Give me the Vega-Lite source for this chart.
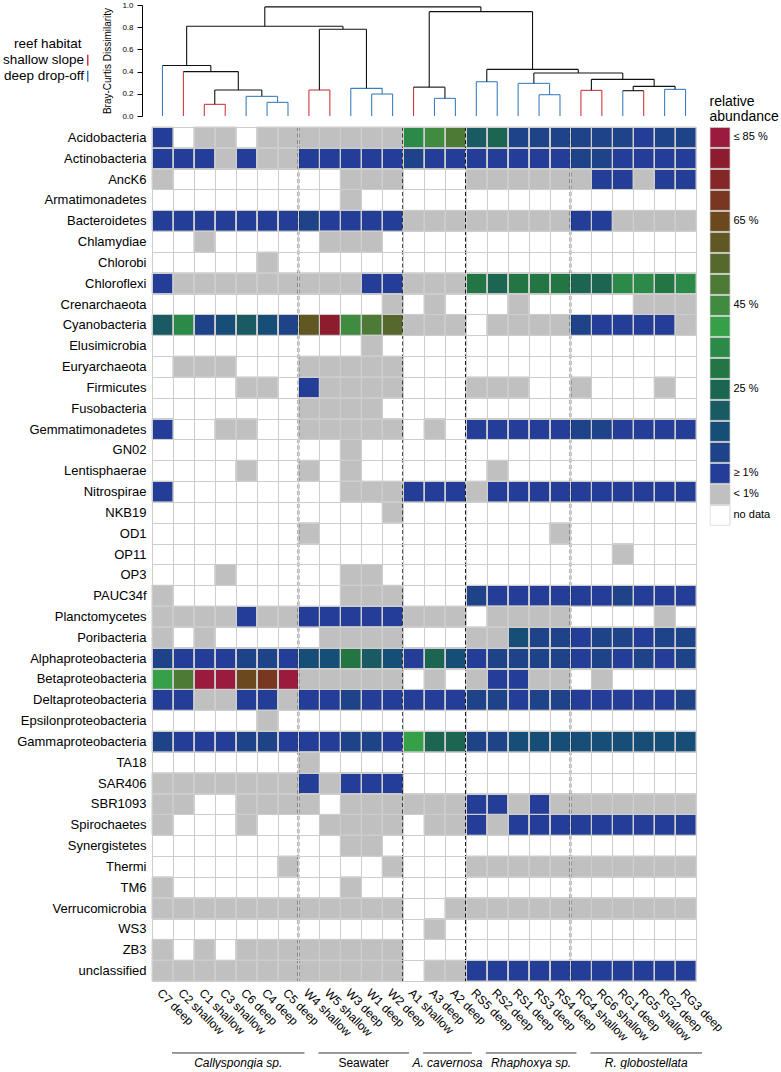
{
"$schema":"https://vega.github.io/schema/vega-lite/v6.json",
"background":"white",
"padding":{"left":1,"top":1,"right":0,"bottom":0},
"bounds":"flush",
"spacing":11,
"resolve":{"scale":{"x":"independent","y":"independent","color":"independent"},"legend":{"color":"independent"}},
"config":{"font":"Liberation Sans","view":{"stroke":null},"axis":{"labelColor":"#000","titleColor":"#000","domainColor":"#000","tickColor":"#000"},"legend":{"labelColor":"#000","titleColor":"#000"}},
"vconcat":[
{
"width":544,"height":111,
"data":{"values":[
{"x":2.5,"x2":2.5,"y":0,"y2":0.105,"h":"shallow slope"},{"x":3.5,"x2":3.5,"y":0,"y2":0.105,"h":"shallow slope"},{"x":2.5,"x2":3.5,"y":0.105,"y2":0.105,"h":"shallow slope"},
{"x":5.5,"x2":5.5,"y":0,"y2":0.123,"h":"deep drop-off"},{"x":6.5,"x2":6.5,"y":0,"y2":0.123,"h":"deep drop-off"},{"x":5.5,"x2":6.5,"y":0.123,"y2":0.123,"h":"deep drop-off"},
{"x":4.5,"x2":4.5,"y":0,"y2":0.177,"h":"deep drop-off"},{"x":6,"x2":6,"y":0.123,"y2":0.177,"h":"deep drop-off"},{"x":4.5,"x2":6,"y":0.177,"y2":0.177,"h":"deep drop-off"},
{"x":3,"x2":3,"y":0.105,"y2":0.234,"h":"mixed"},{"x":5.25,"x2":5.25,"y":0.177,"y2":0.234,"h":"mixed"},{"x":3,"x2":5.25,"y":0.234,"y2":0.234,"h":"mixed"},
{"x":1.5,"x2":1.5,"y":0,"y2":0.4,"h":"shallow slope"},{"x":4.125,"x2":4.125,"y":0.234,"y2":0.4,"h":"mixed"},{"x":1.5,"x2":4.125,"y":0.4,"y2":0.4,"h":"mixed"},
{"x":0.5,"x2":0.5,"y":0,"y2":0.455,"h":"deep drop-off"},{"x":2.8125,"x2":2.8125,"y":0.4,"y2":0.455,"h":"mixed"},{"x":0.5,"x2":2.8125,"y":0.455,"y2":0.455,"h":"mixed"},
{"x":7.5,"x2":7.5,"y":0,"y2":0.234,"h":"shallow slope"},{"x":8.5,"x2":8.5,"y":0,"y2":0.234,"h":"shallow slope"},{"x":7.5,"x2":8.5,"y":0.234,"y2":0.234,"h":"shallow slope"},
{"x":10.5,"x2":10.5,"y":0,"y2":0.198,"h":"deep drop-off"},{"x":11.5,"x2":11.5,"y":0,"y2":0.198,"h":"deep drop-off"},{"x":10.5,"x2":11.5,"y":0.198,"y2":0.198,"h":"deep drop-off"},
{"x":9.5,"x2":9.5,"y":0,"y2":0.249,"h":"deep drop-off"},{"x":11,"x2":11,"y":0.198,"y2":0.249,"h":"deep drop-off"},{"x":9.5,"x2":11,"y":0.249,"y2":0.249,"h":"deep drop-off"},
{"x":8,"x2":8,"y":0.234,"y2":0.782,"h":"mixed"},{"x":10.25,"x2":10.25,"y":0.249,"y2":0.782,"h":"mixed"},{"x":8,"x2":10.25,"y":0.782,"y2":0.782,"h":"mixed"},
{"x":1.65625,"x2":1.65625,"y":0.455,"y2":0.809,"h":"mixed"},{"x":9.125,"x2":9.125,"y":0.782,"y2":0.809,"h":"mixed"},{"x":1.65625,"x2":9.125,"y":0.809,"y2":0.809,"h":"mixed"},
{"x":13.5,"x2":13.5,"y":0,"y2":0.159,"h":"deep drop-off"},{"x":14.5,"x2":14.5,"y":0,"y2":0.159,"h":"deep drop-off"},{"x":13.5,"x2":14.5,"y":0.159,"y2":0.159,"h":"deep drop-off"},
{"x":12.5,"x2":12.5,"y":0,"y2":0.26,"h":"shallow slope"},{"x":14,"x2":14,"y":0.159,"y2":0.26,"h":"mixed"},{"x":12.5,"x2":14,"y":0.26,"y2":0.26,"h":"mixed"},
{"x":15.5,"x2":15.5,"y":0,"y2":0.309,"h":"deep drop-off"},{"x":16.5,"x2":16.5,"y":0,"y2":0.309,"h":"deep drop-off"},{"x":15.5,"x2":16.5,"y":0.309,"y2":0.309,"h":"deep drop-off"},
{"x":18.5,"x2":18.5,"y":0,"y2":0.192,"h":"deep drop-off"},{"x":19.5,"x2":19.5,"y":0,"y2":0.192,"h":"deep drop-off"},{"x":18.5,"x2":19.5,"y":0.192,"y2":0.192,"h":"deep drop-off"},
{"x":17.5,"x2":17.5,"y":0,"y2":0.294,"h":"deep drop-off"},{"x":19,"x2":19,"y":0.192,"y2":0.294,"h":"deep drop-off"},{"x":17.5,"x2":19,"y":0.294,"y2":0.294,"h":"deep drop-off"},
{"x":20.5,"x2":20.5,"y":0,"y2":0.231,"h":"shallow slope"},{"x":21.5,"x2":21.5,"y":0,"y2":0.231,"h":"shallow slope"},{"x":20.5,"x2":21.5,"y":0.231,"y2":0.231,"h":"shallow slope"},
{"x":22.5,"x2":22.5,"y":0,"y2":0.228,"h":"deep drop-off"},{"x":23.5,"x2":23.5,"y":0,"y2":0.228,"h":"shallow slope"},{"x":22.5,"x2":23.5,"y":0.228,"y2":0.228,"h":"mixed"},
{"x":24.5,"x2":24.5,"y":0,"y2":0.24,"h":"deep drop-off"},{"x":25.5,"x2":25.5,"y":0,"y2":0.24,"h":"deep drop-off"},{"x":24.5,"x2":25.5,"y":0.24,"y2":0.24,"h":"deep drop-off"},
{"x":23,"x2":23,"y":0.228,"y2":0.267,"h":"mixed"},{"x":25,"x2":25,"y":0.24,"y2":0.267,"h":"mixed"},{"x":23,"x2":25,"y":0.267,"y2":0.267,"h":"mixed"},
{"x":21,"x2":21,"y":0.231,"y2":0.33,"h":"mixed"},{"x":24,"x2":24,"y":0.267,"y2":0.33,"h":"mixed"},{"x":21,"x2":24,"y":0.33,"y2":0.33,"h":"mixed"},
{"x":18.25,"x2":18.25,"y":0.294,"y2":0.387,"h":"mixed"},{"x":22.5,"x2":22.5,"y":0.33,"y2":0.387,"h":"mixed"},{"x":18.25,"x2":22.5,"y":0.387,"y2":0.387,"h":"mixed"},
{"x":16,"x2":16,"y":0.309,"y2":0.42,"h":"mixed"},{"x":20.375,"x2":20.375,"y":0.387,"y2":0.42,"h":"mixed"},{"x":16,"x2":20.375,"y":0.42,"y2":0.42,"h":"mixed"},
{"x":13.25,"x2":13.25,"y":0.26,"y2":0.94,"h":"mixed"},{"x":18.1875,"x2":18.1875,"y":0.42,"y2":0.94,"h":"mixed"},{"x":13.25,"x2":18.1875,"y":0.94,"y2":0.94,"h":"mixed"},
{"x":5.390625,"x2":5.390625,"y":0.809,"y2":0.983,"h":"mixed"},{"x":15.71875,"x2":15.71875,"y":0.94,"y2":0.983,"h":"mixed"},{"x":5.390625,"x2":15.71875,"y":0.983,"y2":0.983,"h":"mixed"}
]},
"mark":{"type":"rule","strokeWidth":1.1},
"encoding":{
"x":{"field":"x","type":"quantitative","scale":{"domain":[0,26],"nice":false,"zero":false},"axis":null},
"x2":{"field":"x2"},
"y":{"field":"y","type":"quantitative","scale":{"domain":[0,1],"nice":false},"axis":{"values":[0,0.2,0.4,0.6,0.8,1],"format":".1f","title":"Bray-Curtis Dissimilarity","titleFontSize":10,"titleFontWeight":"normal","titlePadding":9,"labelFontSize":8,"labelPadding":4,"tickSize":5,"offset":10,"grid":false}},
"y2":{"field":"y2"},
"color":{"field":"h","type":"nominal","scale":{"domain":["shallow slope","deep drop-off","mixed"],"range":["#cc3a3f","#3d7ec0","#111111"]},
"legend":{"orient":"none","legendX":-151,"legendY":32,"title":"reef habitat","titleFontSize":13.5,"titleFontWeight":"normal","titleAnchor":"start","titleAlign":"left","titlePadding":3,"labelFontSize":13.5,"labelAlign":"right","labelOffset":-10.5,"symbolOffset":80,"symbolType":"M0,-1L0,1","symbolSize":121,"symbolStrokeWidth":1.5,"values":["shallow slope","deep drop-off"],"rowPadding":-2,"encode":{"title":{"update":{"dx":{"value":13}}}}}}
}
},
{
"width":544,"height":854,
"layer":[
{
"data":{"values":[
{"s":"C7 deep","p":"Acidobacteria","a":"5"},{"s":"C1 shallow","p":"Acidobacteria","a":"<1"},{"s":"C3 shallow","p":"Acidobacteria","a":"<1"},{"s":"C4 deep","p":"Acidobacteria","a":"<1"},{"s":"C5 deep","p":"Acidobacteria","a":"<1"},{"s":"W4 shallow","p":"Acidobacteria","a":"<1"},{"s":"W5 shallow","p":"Acidobacteria","a":"<1"},{"s":"W3 deep","p":"Acidobacteria","a":"<1"},{"s":"W1 deep","p":"Acidobacteria","a":"<1"},{"s":"W2 deep","p":"Acidobacteria","a":"<1"},{"s":"A1 shallow","p":"Acidobacteria","a":"35"},{"s":"A3 deep","p":"Acidobacteria","a":"45"},{"s":"A2 deep","p":"Acidobacteria","a":"50"},{"s":"RS5 deep","p":"Acidobacteria","a":"20"},{"s":"RS2 deep","p":"Acidobacteria","a":"25"},{"s":"RS1 deep","p":"Acidobacteria","a":"10"},{"s":"RS3 deep","p":"Acidobacteria","a":"10"},{"s":"RS4 deep","p":"Acidobacteria","a":"10"},{"s":"RG4 shallow","p":"Acidobacteria","a":"10"},{"s":"RG6 shallow","p":"Acidobacteria","a":"10"},{"s":"RG1 deep","p":"Acidobacteria","a":"10"},{"s":"RG5 shallow","p":"Acidobacteria","a":"5"},{"s":"RG2 deep","p":"Acidobacteria","a":"10"},{"s":"RG3 deep","p":"Acidobacteria","a":"10"},
{"s":"C7 deep","p":"Actinobacteria","a":"5"},{"s":"C2 shallow","p":"Actinobacteria","a":"5"},{"s":"C1 shallow","p":"Actinobacteria","a":"5"},{"s":"C3 shallow","p":"Actinobacteria","a":"<1"},{"s":"C6 deep","p":"Actinobacteria","a":"5"},{"s":"C4 deep","p":"Actinobacteria","a":"<1"},{"s":"C5 deep","p":"Actinobacteria","a":"<1"},{"s":"W4 shallow","p":"Actinobacteria","a":"5"},{"s":"W5 shallow","p":"Actinobacteria","a":"5"},{"s":"W3 deep","p":"Actinobacteria","a":"5"},{"s":"W1 deep","p":"Actinobacteria","a":"5"},{"s":"W2 deep","p":"Actinobacteria","a":"5"},{"s":"A1 shallow","p":"Actinobacteria","a":"10"},{"s":"A3 deep","p":"Actinobacteria","a":"5"},{"s":"A2 deep","p":"Actinobacteria","a":"5"},{"s":"RS5 deep","p":"Actinobacteria","a":"5"},{"s":"RS2 deep","p":"Actinobacteria","a":"5"},{"s":"RS1 deep","p":"Actinobacteria","a":"5"},{"s":"RS3 deep","p":"Actinobacteria","a":"5"},{"s":"RS4 deep","p":"Actinobacteria","a":"5"},{"s":"RG4 shallow","p":"Actinobacteria","a":"10"},{"s":"RG6 shallow","p":"Actinobacteria","a":"10"},{"s":"RG1 deep","p":"Actinobacteria","a":"5"},{"s":"RG5 shallow","p":"Actinobacteria","a":"5"},{"s":"RG2 deep","p":"Actinobacteria","a":"5"},{"s":"RG3 deep","p":"Actinobacteria","a":"5"},
{"s":"C7 deep","p":"AncK6","a":"<1"},{"s":"W3 deep","p":"AncK6","a":"<1"},{"s":"W1 deep","p":"AncK6","a":"<1"},{"s":"W2 deep","p":"AncK6","a":"<1"},{"s":"RS5 deep","p":"AncK6","a":"<1"},{"s":"RS2 deep","p":"AncK6","a":"<1"},{"s":"RS1 deep","p":"AncK6","a":"<1"},{"s":"RS3 deep","p":"AncK6","a":"<1"},{"s":"RS4 deep","p":"AncK6","a":"<1"},{"s":"RG4 shallow","p":"AncK6","a":"<1"},{"s":"RG6 shallow","p":"AncK6","a":"5"},{"s":"RG1 deep","p":"AncK6","a":"5"},{"s":"RG5 shallow","p":"AncK6","a":"<1"},{"s":"RG2 deep","p":"AncK6","a":"5"},{"s":"RG3 deep","p":"AncK6","a":"5"},
{"s":"W3 deep","p":"Armatimonadetes","a":"<1"},
{"s":"C7 deep","p":"Bacteroidetes","a":"5"},{"s":"C2 shallow","p":"Bacteroidetes","a":"5"},{"s":"C1 shallow","p":"Bacteroidetes","a":"5"},{"s":"C3 shallow","p":"Bacteroidetes","a":"5"},{"s":"C6 deep","p":"Bacteroidetes","a":"5"},{"s":"C4 deep","p":"Bacteroidetes","a":"5"},{"s":"C5 deep","p":"Bacteroidetes","a":"5"},{"s":"W4 shallow","p":"Bacteroidetes","a":"10"},{"s":"W5 shallow","p":"Bacteroidetes","a":"5"},{"s":"W3 deep","p":"Bacteroidetes","a":"5"},{"s":"W1 deep","p":"Bacteroidetes","a":"5"},{"s":"W2 deep","p":"Bacteroidetes","a":"5"},{"s":"A1 shallow","p":"Bacteroidetes","a":"<1"},{"s":"A3 deep","p":"Bacteroidetes","a":"<1"},{"s":"A2 deep","p":"Bacteroidetes","a":"<1"},{"s":"RS5 deep","p":"Bacteroidetes","a":"<1"},{"s":"RS2 deep","p":"Bacteroidetes","a":"<1"},{"s":"RS1 deep","p":"Bacteroidetes","a":"<1"},{"s":"RS3 deep","p":"Bacteroidetes","a":"<1"},{"s":"RS4 deep","p":"Bacteroidetes","a":"<1"},{"s":"RG4 shallow","p":"Bacteroidetes","a":"5"},{"s":"RG6 shallow","p":"Bacteroidetes","a":"5"},{"s":"RG1 deep","p":"Bacteroidetes","a":"<1"},{"s":"RG5 shallow","p":"Bacteroidetes","a":"<1"},{"s":"RG2 deep","p":"Bacteroidetes","a":"<1"},{"s":"RG3 deep","p":"Bacteroidetes","a":"<1"},
{"s":"C1 shallow","p":"Chlamydiae","a":"<1"},{"s":"W5 shallow","p":"Chlamydiae","a":"<1"},{"s":"W3 deep","p":"Chlamydiae","a":"<1"},{"s":"W1 deep","p":"Chlamydiae","a":"<1"},
{"s":"C4 deep","p":"Chlorobi","a":"<1"},
{"s":"C7 deep","p":"Chloroflexi","a":"5"},{"s":"C2 shallow","p":"Chloroflexi","a":"<1"},{"s":"C1 shallow","p":"Chloroflexi","a":"<1"},{"s":"C3 shallow","p":"Chloroflexi","a":"<1"},{"s":"C6 deep","p":"Chloroflexi","a":"<1"},{"s":"C4 deep","p":"Chloroflexi","a":"<1"},{"s":"C5 deep","p":"Chloroflexi","a":"<1"},{"s":"W4 shallow","p":"Chloroflexi","a":"<1"},{"s":"W5 shallow","p":"Chloroflexi","a":"<1"},{"s":"W3 deep","p":"Chloroflexi","a":"<1"},{"s":"W1 deep","p":"Chloroflexi","a":"5"},{"s":"W2 deep","p":"Chloroflexi","a":"5"},{"s":"A1 shallow","p":"Chloroflexi","a":"<1"},{"s":"A3 deep","p":"Chloroflexi","a":"<1"},{"s":"A2 deep","p":"Chloroflexi","a":"<1"},{"s":"RS5 deep","p":"Chloroflexi","a":"30"},{"s":"RS2 deep","p":"Chloroflexi","a":"25"},{"s":"RS1 deep","p":"Chloroflexi","a":"30"},{"s":"RS3 deep","p":"Chloroflexi","a":"30"},{"s":"RS4 deep","p":"Chloroflexi","a":"30"},{"s":"RG4 shallow","p":"Chloroflexi","a":"25"},{"s":"RG6 shallow","p":"Chloroflexi","a":"25"},{"s":"RG1 deep","p":"Chloroflexi","a":"35"},{"s":"RG5 shallow","p":"Chloroflexi","a":"35"},{"s":"RG2 deep","p":"Chloroflexi","a":"30"},{"s":"RG3 deep","p":"Chloroflexi","a":"35"},
{"s":"W2 deep","p":"Crenarchaeota","a":"<1"},{"s":"A3 deep","p":"Crenarchaeota","a":"<1"},{"s":"RS1 deep","p":"Crenarchaeota","a":"<1"},{"s":"RG5 shallow","p":"Crenarchaeota","a":"<1"},{"s":"RG2 deep","p":"Crenarchaeota","a":"<1"},{"s":"RG3 deep","p":"Crenarchaeota","a":"<1"},
{"s":"C7 deep","p":"Cyanobacteria","a":"20"},{"s":"C2 shallow","p":"Cyanobacteria","a":"35"},{"s":"C1 shallow","p":"Cyanobacteria","a":"10"},{"s":"C3 shallow","p":"Cyanobacteria","a":"15"},{"s":"C6 deep","p":"Cyanobacteria","a":"20"},{"s":"C4 deep","p":"Cyanobacteria","a":"15"},{"s":"C5 deep","p":"Cyanobacteria","a":"10"},{"s":"W4 shallow","p":"Cyanobacteria","a":"60"},{"s":"W5 shallow","p":"Cyanobacteria","a":"80"},{"s":"W3 deep","p":"Cyanobacteria","a":"45"},{"s":"W1 deep","p":"Cyanobacteria","a":"50"},{"s":"W2 deep","p":"Cyanobacteria","a":"55"},{"s":"A1 shallow","p":"Cyanobacteria","a":"<1"},{"s":"A3 deep","p":"Cyanobacteria","a":"<1"},{"s":"A2 deep","p":"Cyanobacteria","a":"<1"},{"s":"RS2 deep","p":"Cyanobacteria","a":"<1"},{"s":"RS1 deep","p":"Cyanobacteria","a":"<1"},{"s":"RS3 deep","p":"Cyanobacteria","a":"<1"},{"s":"RS4 deep","p":"Cyanobacteria","a":"<1"},{"s":"RG4 shallow","p":"Cyanobacteria","a":"10"},{"s":"RG6 shallow","p":"Cyanobacteria","a":"5"},{"s":"RG1 deep","p":"Cyanobacteria","a":"5"},{"s":"RG5 shallow","p":"Cyanobacteria","a":"5"},{"s":"RG2 deep","p":"Cyanobacteria","a":"5"},{"s":"RG3 deep","p":"Cyanobacteria","a":"<1"},
{"s":"W1 deep","p":"Elusimicrobia","a":"<1"},
{"s":"C2 shallow","p":"Euryarchaeota","a":"<1"},{"s":"C1 shallow","p":"Euryarchaeota","a":"<1"},{"s":"C3 shallow","p":"Euryarchaeota","a":"<1"},{"s":"W4 shallow","p":"Euryarchaeota","a":"<1"},{"s":"W5 shallow","p":"Euryarchaeota","a":"<1"},{"s":"W3 deep","p":"Euryarchaeota","a":"<1"},{"s":"W1 deep","p":"Euryarchaeota","a":"<1"},{"s":"W2 deep","p":"Euryarchaeota","a":"<1"},
{"s":"C6 deep","p":"Firmicutes","a":"<1"},{"s":"C4 deep","p":"Firmicutes","a":"<1"},{"s":"W4 shallow","p":"Firmicutes","a":"5"},{"s":"W5 shallow","p":"Firmicutes","a":"<1"},{"s":"W3 deep","p":"Firmicutes","a":"<1"},{"s":"W1 deep","p":"Firmicutes","a":"<1"},{"s":"W2 deep","p":"Firmicutes","a":"<1"},{"s":"RS5 deep","p":"Firmicutes","a":"<1"},{"s":"RS2 deep","p":"Firmicutes","a":"<1"},{"s":"RS1 deep","p":"Firmicutes","a":"<1"},{"s":"RG4 shallow","p":"Firmicutes","a":"<1"},{"s":"RG2 deep","p":"Firmicutes","a":"<1"},
{"s":"W4 shallow","p":"Fusobacteria","a":"<1"},{"s":"W5 shallow","p":"Fusobacteria","a":"<1"},{"s":"W3 deep","p":"Fusobacteria","a":"<1"},{"s":"W1 deep","p":"Fusobacteria","a":"<1"},
{"s":"C7 deep","p":"Gemmatimonadetes","a":"5"},{"s":"C3 shallow","p":"Gemmatimonadetes","a":"<1"},{"s":"C6 deep","p":"Gemmatimonadetes","a":"<1"},{"s":"W4 shallow","p":"Gemmatimonadetes","a":"<1"},{"s":"W5 shallow","p":"Gemmatimonadetes","a":"<1"},{"s":"W3 deep","p":"Gemmatimonadetes","a":"<1"},{"s":"W1 deep","p":"Gemmatimonadetes","a":"<1"},{"s":"W2 deep","p":"Gemmatimonadetes","a":"<1"},{"s":"A3 deep","p":"Gemmatimonadetes","a":"<1"},{"s":"RS5 deep","p":"Gemmatimonadetes","a":"5"},{"s":"RS2 deep","p":"Gemmatimonadetes","a":"5"},{"s":"RS1 deep","p":"Gemmatimonadetes","a":"5"},{"s":"RS3 deep","p":"Gemmatimonadetes","a":"5"},{"s":"RS4 deep","p":"Gemmatimonadetes","a":"5"},{"s":"RG4 shallow","p":"Gemmatimonadetes","a":"10"},{"s":"RG6 shallow","p":"Gemmatimonadetes","a":"10"},{"s":"RG1 deep","p":"Gemmatimonadetes","a":"5"},{"s":"RG5 shallow","p":"Gemmatimonadetes","a":"5"},{"s":"RG2 deep","p":"Gemmatimonadetes","a":"5"},{"s":"RG3 deep","p":"Gemmatimonadetes","a":"5"},
{"s":"W3 deep","p":"GN02","a":"<1"},
{"s":"C6 deep","p":"Lentisphaerae","a":"<1"},{"s":"W4 shallow","p":"Lentisphaerae","a":"<1"},{"s":"W3 deep","p":"Lentisphaerae","a":"<1"},{"s":"RS2 deep","p":"Lentisphaerae","a":"<1"},
{"s":"C7 deep","p":"Nitrospirae","a":"5"},{"s":"W3 deep","p":"Nitrospirae","a":"<1"},{"s":"W1 deep","p":"Nitrospirae","a":"<1"},{"s":"W2 deep","p":"Nitrospirae","a":"<1"},{"s":"A1 shallow","p":"Nitrospirae","a":"5"},{"s":"A3 deep","p":"Nitrospirae","a":"5"},{"s":"A2 deep","p":"Nitrospirae","a":"5"},{"s":"RS5 deep","p":"Nitrospirae","a":"<1"},{"s":"RS2 deep","p":"Nitrospirae","a":"5"},{"s":"RS1 deep","p":"Nitrospirae","a":"5"},{"s":"RS3 deep","p":"Nitrospirae","a":"5"},{"s":"RS4 deep","p":"Nitrospirae","a":"5"},{"s":"RG4 shallow","p":"Nitrospirae","a":"5"},{"s":"RG6 shallow","p":"Nitrospirae","a":"5"},{"s":"RG1 deep","p":"Nitrospirae","a":"5"},{"s":"RG5 shallow","p":"Nitrospirae","a":"5"},{"s":"RG2 deep","p":"Nitrospirae","a":"5"},{"s":"RG3 deep","p":"Nitrospirae","a":"5"},
{"s":"W2 deep","p":"NKB19","a":"<1"},
{"s":"W4 shallow","p":"OD1","a":"<1"},{"s":"RS4 deep","p":"OD1","a":"<1"},
{"s":"RG1 deep","p":"OP11","a":"<1"},
{"s":"C3 shallow","p":"OP3","a":"<1"},{"s":"W3 deep","p":"OP3","a":"<1"},{"s":"W1 deep","p":"OP3","a":"<1"},
{"s":"C7 deep","p":"PAUC34f","a":"<1"},{"s":"W3 deep","p":"PAUC34f","a":"<1"},{"s":"W1 deep","p":"PAUC34f","a":"<1"},{"s":"W2 deep","p":"PAUC34f","a":"<1"},{"s":"RS5 deep","p":"PAUC34f","a":"10"},{"s":"RS2 deep","p":"PAUC34f","a":"5"},{"s":"RS1 deep","p":"PAUC34f","a":"5"},{"s":"RS3 deep","p":"PAUC34f","a":"5"},{"s":"RS4 deep","p":"PAUC34f","a":"5"},{"s":"RG4 shallow","p":"PAUC34f","a":"5"},{"s":"RG6 shallow","p":"PAUC34f","a":"5"},{"s":"RG1 deep","p":"PAUC34f","a":"10"},{"s":"RG5 shallow","p":"PAUC34f","a":"5"},{"s":"RG2 deep","p":"PAUC34f","a":"5"},{"s":"RG3 deep","p":"PAUC34f","a":"5"},
{"s":"C7 deep","p":"Planctomycetes","a":"<1"},{"s":"C2 shallow","p":"Planctomycetes","a":"<1"},{"s":"C1 shallow","p":"Planctomycetes","a":"<1"},{"s":"C3 shallow","p":"Planctomycetes","a":"<1"},{"s":"C6 deep","p":"Planctomycetes","a":"5"},{"s":"C4 deep","p":"Planctomycetes","a":"<1"},{"s":"C5 deep","p":"Planctomycetes","a":"<1"},{"s":"W4 shallow","p":"Planctomycetes","a":"5"},{"s":"W5 shallow","p":"Planctomycetes","a":"5"},{"s":"W3 deep","p":"Planctomycetes","a":"5"},{"s":"W1 deep","p":"Planctomycetes","a":"5"},{"s":"W2 deep","p":"Planctomycetes","a":"5"},{"s":"A1 shallow","p":"Planctomycetes","a":"<1"},{"s":"A3 deep","p":"Planctomycetes","a":"<1"},{"s":"A2 deep","p":"Planctomycetes","a":"<1"},{"s":"RS2 deep","p":"Planctomycetes","a":"<1"},{"s":"RS1 deep","p":"Planctomycetes","a":"<1"},{"s":"RS3 deep","p":"Planctomycetes","a":"<1"},{"s":"RS4 deep","p":"Planctomycetes","a":"<1"},{"s":"RG2 deep","p":"Planctomycetes","a":"<1"},
{"s":"C7 deep","p":"Poribacteria","a":"<1"},{"s":"C1 shallow","p":"Poribacteria","a":"<1"},{"s":"W5 shallow","p":"Poribacteria","a":"<1"},{"s":"W3 deep","p":"Poribacteria","a":"<1"},{"s":"W1 deep","p":"Poribacteria","a":"<1"},{"s":"W2 deep","p":"Poribacteria","a":"<1"},{"s":"RS5 deep","p":"Poribacteria","a":"<1"},{"s":"RS2 deep","p":"Poribacteria","a":"<1"},{"s":"RS1 deep","p":"Poribacteria","a":"15"},{"s":"RS3 deep","p":"Poribacteria","a":"10"},{"s":"RS4 deep","p":"Poribacteria","a":"10"},{"s":"RG4 shallow","p":"Poribacteria","a":"5"},{"s":"RG6 shallow","p":"Poribacteria","a":"10"},{"s":"RG1 deep","p":"Poribacteria","a":"10"},{"s":"RG5 shallow","p":"Poribacteria","a":"5"},{"s":"RG2 deep","p":"Poribacteria","a":"10"},{"s":"RG3 deep","p":"Poribacteria","a":"10"},
{"s":"C7 deep","p":"Alphaproteobacteria","a":"10"},{"s":"C2 shallow","p":"Alphaproteobacteria","a":"5"},{"s":"C1 shallow","p":"Alphaproteobacteria","a":"5"},{"s":"C3 shallow","p":"Alphaproteobacteria","a":"5"},{"s":"C6 deep","p":"Alphaproteobacteria","a":"10"},{"s":"C4 deep","p":"Alphaproteobacteria","a":"10"},{"s":"C5 deep","p":"Alphaproteobacteria","a":"5"},{"s":"W4 shallow","p":"Alphaproteobacteria","a":"15"},{"s":"W5 shallow","p":"Alphaproteobacteria","a":"15"},{"s":"W3 deep","p":"Alphaproteobacteria","a":"30"},{"s":"W1 deep","p":"Alphaproteobacteria","a":"20"},{"s":"W2 deep","p":"Alphaproteobacteria","a":"15"},{"s":"A1 shallow","p":"Alphaproteobacteria","a":"5"},{"s":"A3 deep","p":"Alphaproteobacteria","a":"25"},{"s":"A2 deep","p":"Alphaproteobacteria","a":"15"},{"s":"RS5 deep","p":"Alphaproteobacteria","a":"5"},{"s":"RS2 deep","p":"Alphaproteobacteria","a":"10"},{"s":"RS1 deep","p":"Alphaproteobacteria","a":"10"},{"s":"RS3 deep","p":"Alphaproteobacteria","a":"10"},{"s":"RS4 deep","p":"Alphaproteobacteria","a":"10"},{"s":"RG4 shallow","p":"Alphaproteobacteria","a":"5"},{"s":"RG6 shallow","p":"Alphaproteobacteria","a":"10"},{"s":"RG1 deep","p":"Alphaproteobacteria","a":"5"},{"s":"RG5 shallow","p":"Alphaproteobacteria","a":"10"},{"s":"RG2 deep","p":"Alphaproteobacteria","a":"5"},{"s":"RG3 deep","p":"Alphaproteobacteria","a":"10"},
{"s":"C7 deep","p":"Betaproteobacteria","a":"40"},{"s":"C2 shallow","p":"Betaproteobacteria","a":"50"},{"s":"C1 shallow","p":"Betaproteobacteria","a":"85"},{"s":"C3 shallow","p":"Betaproteobacteria","a":"85"},{"s":"C6 deep","p":"Betaproteobacteria","a":"65"},{"s":"C4 deep","p":"Betaproteobacteria","a":"70"},{"s":"C5 deep","p":"Betaproteobacteria","a":"85"},{"s":"W4 shallow","p":"Betaproteobacteria","a":"<1"},{"s":"W5 shallow","p":"Betaproteobacteria","a":"<1"},{"s":"W3 deep","p":"Betaproteobacteria","a":"<1"},{"s":"W1 deep","p":"Betaproteobacteria","a":"<1"},{"s":"W2 deep","p":"Betaproteobacteria","a":"<1"},{"s":"A3 deep","p":"Betaproteobacteria","a":"<1"},{"s":"RS5 deep","p":"Betaproteobacteria","a":"<1"},{"s":"RS2 deep","p":"Betaproteobacteria","a":"5"},{"s":"RS1 deep","p":"Betaproteobacteria","a":"5"},{"s":"RS3 deep","p":"Betaproteobacteria","a":"<1"},{"s":"RS4 deep","p":"Betaproteobacteria","a":"<1"},{"s":"RG6 shallow","p":"Betaproteobacteria","a":"<1"},
{"s":"C7 deep","p":"Deltaproteobacteria","a":"5"},{"s":"C2 shallow","p":"Deltaproteobacteria","a":"5"},{"s":"C1 shallow","p":"Deltaproteobacteria","a":"<1"},{"s":"C3 shallow","p":"Deltaproteobacteria","a":"<1"},{"s":"C6 deep","p":"Deltaproteobacteria","a":"5"},{"s":"C4 deep","p":"Deltaproteobacteria","a":"5"},{"s":"C5 deep","p":"Deltaproteobacteria","a":"<1"},{"s":"W4 shallow","p":"Deltaproteobacteria","a":"5"},{"s":"W5 shallow","p":"Deltaproteobacteria","a":"5"},{"s":"W3 deep","p":"Deltaproteobacteria","a":"10"},{"s":"W1 deep","p":"Deltaproteobacteria","a":"5"},{"s":"W2 deep","p":"Deltaproteobacteria","a":"5"},{"s":"A1 shallow","p":"Deltaproteobacteria","a":"5"},{"s":"A3 deep","p":"Deltaproteobacteria","a":"5"},{"s":"A2 deep","p":"Deltaproteobacteria","a":"5"},{"s":"RS5 deep","p":"Deltaproteobacteria","a":"10"},{"s":"RS2 deep","p":"Deltaproteobacteria","a":"10"},{"s":"RS1 deep","p":"Deltaproteobacteria","a":"5"},{"s":"RS3 deep","p":"Deltaproteobacteria","a":"10"},{"s":"RS4 deep","p":"Deltaproteobacteria","a":"10"},{"s":"RG4 shallow","p":"Deltaproteobacteria","a":"5"},{"s":"RG6 shallow","p":"Deltaproteobacteria","a":"5"},{"s":"RG1 deep","p":"Deltaproteobacteria","a":"5"},{"s":"RG5 shallow","p":"Deltaproteobacteria","a":"5"},{"s":"RG2 deep","p":"Deltaproteobacteria","a":"5"},{"s":"RG3 deep","p":"Deltaproteobacteria","a":"10"},
{"s":"C4 deep","p":"Epsilonproteobacteria","a":"<1"},
{"s":"C7 deep","p":"Gammaproteobacteria","a":"10"},{"s":"C2 shallow","p":"Gammaproteobacteria","a":"5"},{"s":"C1 shallow","p":"Gammaproteobacteria","a":"5"},{"s":"C3 shallow","p":"Gammaproteobacteria","a":"5"},{"s":"C6 deep","p":"Gammaproteobacteria","a":"10"},{"s":"C4 deep","p":"Gammaproteobacteria","a":"10"},{"s":"C5 deep","p":"Gammaproteobacteria","a":"5"},{"s":"W4 shallow","p":"Gammaproteobacteria","a":"5"},{"s":"W5 shallow","p":"Gammaproteobacteria","a":"5"},{"s":"W3 deep","p":"Gammaproteobacteria","a":"10"},{"s":"W1 deep","p":"Gammaproteobacteria","a":"10"},{"s":"W2 deep","p":"Gammaproteobacteria","a":"5"},{"s":"A1 shallow","p":"Gammaproteobacteria","a":"40"},{"s":"A3 deep","p":"Gammaproteobacteria","a":"25"},{"s":"A2 deep","p":"Gammaproteobacteria","a":"25"},{"s":"RS5 deep","p":"Gammaproteobacteria","a":"10"},{"s":"RS2 deep","p":"Gammaproteobacteria","a":"10"},{"s":"RS1 deep","p":"Gammaproteobacteria","a":"15"},{"s":"RS3 deep","p":"Gammaproteobacteria","a":"15"},{"s":"RS4 deep","p":"Gammaproteobacteria","a":"15"},{"s":"RG4 shallow","p":"Gammaproteobacteria","a":"15"},{"s":"RG6 shallow","p":"Gammaproteobacteria","a":"15"},{"s":"RG1 deep","p":"Gammaproteobacteria","a":"15"},{"s":"RG5 shallow","p":"Gammaproteobacteria","a":"15"},{"s":"RG2 deep","p":"Gammaproteobacteria","a":"15"},{"s":"RG3 deep","p":"Gammaproteobacteria","a":"15"},
{"s":"W4 shallow","p":"TA18","a":"<1"},
{"s":"C7 deep","p":"SAR406","a":"<1"},{"s":"C2 shallow","p":"SAR406","a":"<1"},{"s":"C1 shallow","p":"SAR406","a":"<1"},{"s":"C3 shallow","p":"SAR406","a":"<1"},{"s":"C6 deep","p":"SAR406","a":"<1"},{"s":"C4 deep","p":"SAR406","a":"<1"},{"s":"C5 deep","p":"SAR406","a":"<1"},{"s":"W4 shallow","p":"SAR406","a":"5"},{"s":"W5 shallow","p":"SAR406","a":"<1"},{"s":"W3 deep","p":"SAR406","a":"5"},{"s":"W1 deep","p":"SAR406","a":"5"},{"s":"W2 deep","p":"SAR406","a":"5"},
{"s":"C7 deep","p":"SBR1093","a":"<1"},{"s":"C2 shallow","p":"SBR1093","a":"<1"},{"s":"C6 deep","p":"SBR1093","a":"<1"},{"s":"C4 deep","p":"SBR1093","a":"<1"},{"s":"C5 deep","p":"SBR1093","a":"<1"},{"s":"W4 shallow","p":"SBR1093","a":"<1"},{"s":"W3 deep","p":"SBR1093","a":"<1"},{"s":"W1 deep","p":"SBR1093","a":"<1"},{"s":"W2 deep","p":"SBR1093","a":"<1"},{"s":"A1 shallow","p":"SBR1093","a":"<1"},{"s":"A3 deep","p":"SBR1093","a":"<1"},{"s":"A2 deep","p":"SBR1093","a":"<1"},{"s":"RS5 deep","p":"SBR1093","a":"5"},{"s":"RS2 deep","p":"SBR1093","a":"5"},{"s":"RS1 deep","p":"SBR1093","a":"<1"},{"s":"RS3 deep","p":"SBR1093","a":"5"},{"s":"RS4 deep","p":"SBR1093","a":"<1"},{"s":"RG4 shallow","p":"SBR1093","a":"<1"},{"s":"RG6 shallow","p":"SBR1093","a":"<1"},{"s":"RG1 deep","p":"SBR1093","a":"<1"},{"s":"RG5 shallow","p":"SBR1093","a":"<1"},{"s":"RG2 deep","p":"SBR1093","a":"<1"},{"s":"RG3 deep","p":"SBR1093","a":"<1"},
{"s":"C7 deep","p":"Spirochaetes","a":"<1"},{"s":"C6 deep","p":"Spirochaetes","a":"<1"},{"s":"W5 shallow","p":"Spirochaetes","a":"<1"},{"s":"W3 deep","p":"Spirochaetes","a":"<1"},{"s":"W1 deep","p":"Spirochaetes","a":"<1"},{"s":"W2 deep","p":"Spirochaetes","a":"<1"},{"s":"A3 deep","p":"Spirochaetes","a":"<1"},{"s":"A2 deep","p":"Spirochaetes","a":"<1"},{"s":"RS5 deep","p":"Spirochaetes","a":"5"},{"s":"RS2 deep","p":"Spirochaetes","a":"<1"},{"s":"RS1 deep","p":"Spirochaetes","a":"5"},{"s":"RS3 deep","p":"Spirochaetes","a":"5"},{"s":"RS4 deep","p":"Spirochaetes","a":"5"},{"s":"RG4 shallow","p":"Spirochaetes","a":"5"},{"s":"RG6 shallow","p":"Spirochaetes","a":"5"},{"s":"RG1 deep","p":"Spirochaetes","a":"5"},{"s":"RG5 shallow","p":"Spirochaetes","a":"5"},{"s":"RG2 deep","p":"Spirochaetes","a":"5"},{"s":"RG3 deep","p":"Spirochaetes","a":"5"},
{"s":"W3 deep","p":"Synergistetes","a":"<1"},{"s":"W1 deep","p":"Synergistetes","a":"<1"},
{"s":"C5 deep","p":"Thermi","a":"<1"},{"s":"W2 deep","p":"Thermi","a":"<1"},{"s":"RS5 deep","p":"Thermi","a":"<1"},{"s":"RS2 deep","p":"Thermi","a":"<1"},{"s":"RS1 deep","p":"Thermi","a":"<1"},{"s":"RS3 deep","p":"Thermi","a":"<1"},{"s":"RS4 deep","p":"Thermi","a":"<1"},{"s":"RG4 shallow","p":"Thermi","a":"<1"},{"s":"RG6 shallow","p":"Thermi","a":"<1"},{"s":"RG1 deep","p":"Thermi","a":"<1"},{"s":"RG5 shallow","p":"Thermi","a":"<1"},{"s":"RG2 deep","p":"Thermi","a":"<1"},{"s":"RG3 deep","p":"Thermi","a":"<1"},
{"s":"C7 deep","p":"TM6","a":"<1"},{"s":"W3 deep","p":"TM6","a":"<1"},
{"s":"C7 deep","p":"Verrucomicrobia","a":"<1"},{"s":"C2 shallow","p":"Verrucomicrobia","a":"<1"},{"s":"C1 shallow","p":"Verrucomicrobia","a":"<1"},{"s":"C3 shallow","p":"Verrucomicrobia","a":"<1"},{"s":"C6 deep","p":"Verrucomicrobia","a":"<1"},{"s":"C4 deep","p":"Verrucomicrobia","a":"<1"},{"s":"C5 deep","p":"Verrucomicrobia","a":"<1"},{"s":"W4 shallow","p":"Verrucomicrobia","a":"<1"},{"s":"W5 shallow","p":"Verrucomicrobia","a":"<1"},{"s":"W3 deep","p":"Verrucomicrobia","a":"<1"},{"s":"W1 deep","p":"Verrucomicrobia","a":"<1"},{"s":"W2 deep","p":"Verrucomicrobia","a":"<1"},{"s":"A2 deep","p":"Verrucomicrobia","a":"<1"},{"s":"RS5 deep","p":"Verrucomicrobia","a":"<1"},{"s":"RS2 deep","p":"Verrucomicrobia","a":"<1"},{"s":"RS1 deep","p":"Verrucomicrobia","a":"<1"},{"s":"RS3 deep","p":"Verrucomicrobia","a":"<1"},{"s":"RS4 deep","p":"Verrucomicrobia","a":"<1"},{"s":"RG4 shallow","p":"Verrucomicrobia","a":"<1"},{"s":"RG6 shallow","p":"Verrucomicrobia","a":"<1"},{"s":"RG1 deep","p":"Verrucomicrobia","a":"<1"},{"s":"RG5 shallow","p":"Verrucomicrobia","a":"<1"},{"s":"RG2 deep","p":"Verrucomicrobia","a":"<1"},{"s":"RG3 deep","p":"Verrucomicrobia","a":"<1"},
{"s":"A3 deep","p":"WS3","a":"<1"},
{"s":"C7 deep","p":"ZB3","a":"<1"},{"s":"C1 shallow","p":"ZB3","a":"<1"},{"s":"C6 deep","p":"ZB3","a":"<1"},{"s":"C4 deep","p":"ZB3","a":"<1"},{"s":"C5 deep","p":"ZB3","a":"<1"},{"s":"W4 shallow","p":"ZB3","a":"<1"},{"s":"W5 shallow","p":"ZB3","a":"<1"},{"s":"W3 deep","p":"ZB3","a":"<1"},{"s":"W1 deep","p":"ZB3","a":"<1"},{"s":"W2 deep","p":"ZB3","a":"<1"},
{"s":"C7 deep","p":"unclassified","a":"<1"},{"s":"C2 shallow","p":"unclassified","a":"<1"},{"s":"C1 shallow","p":"unclassified","a":"<1"},{"s":"C3 shallow","p":"unclassified","a":"<1"},{"s":"C6 deep","p":"unclassified","a":"<1"},{"s":"C4 deep","p":"unclassified","a":"<1"},{"s":"C5 deep","p":"unclassified","a":"<1"},{"s":"W4 shallow","p":"unclassified","a":"<1"},{"s":"W5 shallow","p":"unclassified","a":"<1"},{"s":"W3 deep","p":"unclassified","a":"<1"},{"s":"W1 deep","p":"unclassified","a":"<1"},{"s":"W2 deep","p":"unclassified","a":"<1"},{"s":"A3 deep","p":"unclassified","a":"<1"},{"s":"A2 deep","p":"unclassified","a":"<1"},{"s":"RS5 deep","p":"unclassified","a":"5"},{"s":"RS2 deep","p":"unclassified","a":"5"},{"s":"RS1 deep","p":"unclassified","a":"5"},{"s":"RS3 deep","p":"unclassified","a":"5"},{"s":"RS4 deep","p":"unclassified","a":"5"},{"s":"RG4 shallow","p":"unclassified","a":"5"},{"s":"RG6 shallow","p":"unclassified","a":"5"},{"s":"RG1 deep","p":"unclassified","a":"5"},{"s":"RG5 shallow","p":"unclassified","a":"5"},{"s":"RG2 deep","p":"unclassified","a":"5"},{"s":"RG3 deep","p":"unclassified","a":"5"}
]},
"mark":{"type":"rect","stroke":"#cdcdcd","strokeWidth":1},
"encoding":{
"x":{"field":"s","type":"nominal","scale":{"domain":["C7 deep","C2 shallow","C1 shallow","C3 shallow","C6 deep","C4 deep","C5 deep","W4 shallow","W5 shallow","W3 deep","W1 deep","W2 deep","A1 shallow","A3 deep","A2 deep","RS5 deep","RS2 deep","RS1 deep","RS3 deep","RS4 deep","RG4 shallow","RG6 shallow","RG1 deep","RG5 shallow","RG2 deep","RG3 deep"],"paddingInner":0,"paddingOuter":0},
"axis":{"title":null,"orient":"bottom","labelAngle":45,"labelAlign":"left","labelBaseline":"top","labelFontSize":12,"labelPadding":6,"ticks":false,"domain":false,"grid":true,"gridColor":"#cdcdcd","tickBand":"extent","labelLimit":200}},
"y":{"field":"p","type":"nominal","scale":{"domain":["Acidobacteria","Actinobacteria","AncK6","Armatimonadetes","Bacteroidetes","Chlamydiae","Chlorobi","Chloroflexi","Crenarchaeota","Cyanobacteria","Elusimicrobia","Euryarchaeota","Firmicutes","Fusobacteria","Gemmatimonadetes","GN02","Lentisphaerae","Nitrospirae","NKB19","OD1","OP11","OP3","PAUC34f","Planctomycetes","Poribacteria","Alphaproteobacteria","Betaproteobacteria","Deltaproteobacteria","Epsilonproteobacteria","Gammaproteobacteria","TA18","SAR406","SBR1093","Spirochaetes","Synergistetes","Thermi","TM6","Verrucomicrobia","WS3","ZB3","unclassified"],"paddingInner":0,"paddingOuter":0},
"axis":{"title":null,"labelFontSize":13,"labelPadding":6,"ticks":false,"domain":false,"grid":true,"gridColor":"#cdcdcd","tickBand":"extent","labelLimit":220}},
"color":{"field":"a","type":"nominal","scale":{"domain":["85","80","75","70","65","60","55","50","45","40","35","30","25","20","15","10","5","<1","none"],"range":["#9b1b3d","#8d1c2e","#852727","#7a3720","#6c481e","#605723","#56682c","#4d7a35","#3f8b3f","#36a049","#2b8a47","#237543","#1c6651","#1a5a62","#174e77","#1f4388","#243e97","#c0c0c0","#ffffff"]},
"legend":{"orient":"none","legendX":557.5,"legendY":-32,"title":["relative","abundance"],"titleFontSize":14,"titleFontWeight":"normal","titleLineHeight":15,"titlePadding":3,"titleAnchor":"start","symbolType":"square","symbolSize":400,"symbolStrokeWidth":0.8,"clipHeight":20.8,"rowPadding":0,"labelFontSize":11,"labelOffset":3,
"labelExpr":"datum.value == '85' ? '≤ 85 %' : datum.value == '65' ? '65 %' : datum.value == '45' ? '45 %' : datum.value == '25' ? '25 %' : datum.value == '5' ? '≥ 1%' : datum.value == '<1' ? '< 1%' : datum.value == 'none' ? 'no data' : ''",
"encode":{"symbols":{"update":{"stroke":{"signal":"datum.value == '<1' || datum.value == 'none' ? '#444444' : '#d6d6dc'"}}},"labels":{"update":{"baseline":{"signal":"datum.value == '5' ? 'top' : (datum.value == '<1' || datum.value == 'none') ? 'middle' : 'bottom'"}}}}}}
}
},
{
"data":{"values":[{"s":"W4 shallow"},{"s":"A1 shallow"},{"s":"RS5 deep"},{"s":"RG4 shallow"}]},
"mark":{"type":"rule","strokeDash":[4,2.5],"strokeWidth":1.5,"color":"#000000"},
"encoding":{"x":{"field":"s","type":"nominal","bandPosition":0}}
}
]
},
{
"width":544,"height":75,
"data":{"values":[{"g":"Callyspongia sp.","from":0,"to":7,"mid":3.5},{"g":"Seawater","from":7,"to":12,"mid":9.5},{"g":"A. cavernosa","from":12,"to":15,"mid":13.5},{"g":"Rhaphoxya sp.","from":15,"to":20,"mid":17.5},{"g":"R. globostellata","from":20,"to":26,"mid":23}]},
"layer":[
{"mark":{"type":"rule","xOffset":20,"x2Offset":6,"strokeWidth":0.8,"color":"#000000"},
"encoding":{"x":{"field":"from","type":"quantitative","scale":{"domain":[0,26],"nice":false,"zero":false},"axis":null},"x2":{"field":"to"},"y":{"datum":0.187,"type":"quantitative","scale":{"domain":[0,1],"nice":false},"axis":null}}},
{"transform":[{"filter":"datum.g != 'Seawater'"}],
"mark":{"type":"text","fontSize":12,"fontStyle":"italic","baseline":"alphabetic","align":"center","dx":13},
"encoding":{"x":{"field":"mid","type":"quantitative"},"y":{"datum":0,"type":"quantitative"},"text":{"field":"g"}}},
{"transform":[{"filter":"datum.g == 'Seawater'"}],
"mark":{"type":"text","fontSize":12,"baseline":"alphabetic","align":"center","dx":13},
"encoding":{"x":{"field":"mid","type":"quantitative"},"y":{"datum":0,"type":"quantitative"},"text":{"field":"g"}}}
]
}
]
}
